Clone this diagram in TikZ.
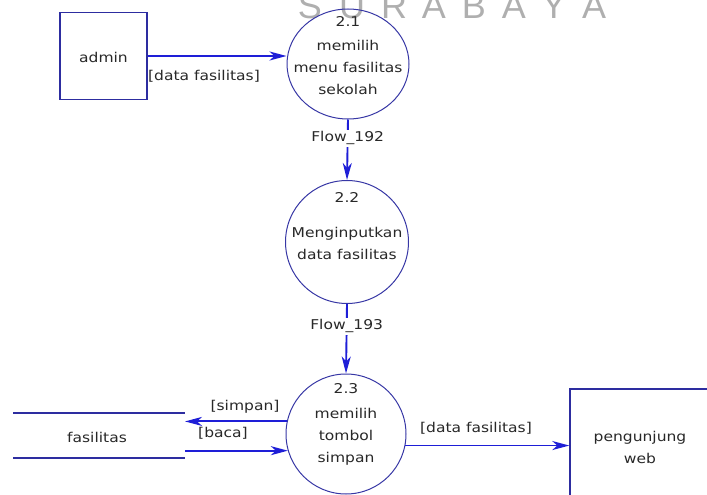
\documentclass[tikz,border=0pt]{standalone}
\usepackage{fontspec}
\setmainfont{DejaVu Sans}[FakeStretch=1.15]
\newfontfamily\wmfont{Liberation Sans}
\usetikzlibrary{arrows.meta,shapes.geometric}
\definecolor{flowblue}{RGB}{30,30,215}
\definecolor{boxnavy}{RGB}{45,45,160}
\definecolor{circnavy}{RGB}{55,55,165}
\definecolor{txt}{RGB}{40,40,40}
\definecolor{wm}{RGB}{175,175,175}
\begin{document}
\begin{tikzpicture}[x=1pt,y=-1pt,
  every node/.style={font=\fontsize{13.5}{22}\selectfont, text=txt, inner sep=0pt},
  entity/.style={draw=boxnavy, line width=1.4pt, rectangle},
  proc/.style={draw=circnavy, line width=1pt, ellipse},
  flow/.style={draw=flowblue, line width=1.9pt, -{Stealth[length=17pt,width=9pt,inset=5pt,fill=flowblue]}},
  storeline/.style={draw=boxnavy, line width=1.5pt},
  flowlbl/.style={fill=white, inner sep=2pt},
  wmletter/.style={font=\wmfont\fontsize{36}{36}\selectfont, text=wm, anchor=base}]
\useasboundingbox (0,0) rectangle (707,495);
\clip (0,0) rectangle (707,495);
% watermark
\foreach \L/\X [count=\i] in {S/310,U/352,R/394,A/434,B/474,A/514,Y/554,A/594}
  \node[wmletter] (wm\i) at (\X,19) {\L};
% entities
\node[entity, minimum width=87pt, minimum height=87pt] (admin) at (103.5,56) {};
\node (admintxt) at (103.5,57) {admin};
\node[entity, minimum width=190pt, minimum height=171pt] (web) at (665,474.5) {};
\node[align=center] (webtxt) at (640,447) {pengunjung\\web};
% processes
\node[proc, minimum width=122pt, minimum height=110pt] (p21) at (348,64) {};
\node (n21) at (348,21) {2.1};
\node[align=center] (t21) at (348,67) {memilih\\menu fasilitas\\sekolah};
\node[proc, minimum width=123pt, minimum height=123pt] (p22) at (347,242) {};
\node (n22) at (347,197) {2.2};
\node[align=center] (t22) at (347,243.5) {Menginputkan\\data fasilitas};
\node[proc, minimum width=120pt, minimum height=120pt] (p23) at (346,434) {};
\node (n23) at (346,389) {2.3};
\node[align=center] (t23) at (346,437) {memilih\\tombol\\simpan};
% data store
\coordinate (sttl) at (13,413);
\coordinate (sttr) at (185,413);
\coordinate (stbl) at (13,458);
\coordinate (stbr) at (185,458);
\draw[storeline] (sttl) -- (sttr);
\draw[storeline] (stbl) -- (stbr);
\node (store) at (97,437) {fasilitas};
% flows
\draw[flow] (admin.east) -- (admin.east -| p21.west);
\node (l1) at (204,76) {[data fasilitas]};
\draw[flow] (p21.south) -- node[flowlbl, pos=0.31] (l2) {Flow\_192} (p22.north);
\draw[flow] (p22.south) -- node[flowlbl, pos=0.32] (l3) {Flow\_193} (p23.north);
\draw[flow] (p23.168) -- (p23.168 -| sttr);
\node (l4) at (245,407) {[simpan]};
\draw[flow] (p23.196 -| sttr) -- (p23.196);
\node (l5) at (223,433) {[baca]};
\draw[flow] (p23.-11) -- (p23.-11 -| web.west);
\node (l6) at (476,428) {[data fasilitas]};
\end{tikzpicture}
\end{document}
